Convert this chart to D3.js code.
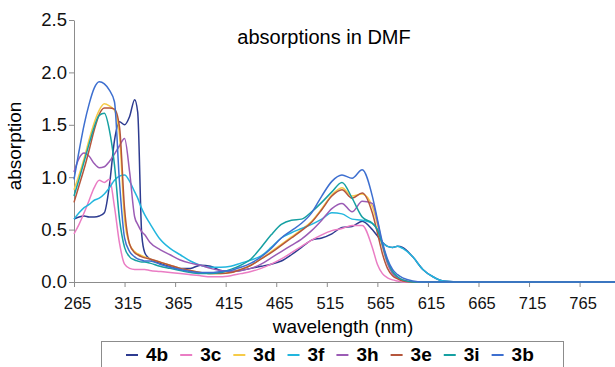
<!DOCTYPE html>
<meta charset="utf-8">
<script src="https://d3js.org/d3.v7.min.js"></script>
<style>
	body { margin: 0; background: #fff; }
	svg { display: block; font-family: "Liberation Sans", Arial, sans-serif; }
	.axis path, .axis line { stroke: #8c8c8c; }
	.axis text { fill: #111; font-family: "Liberation Sans", Arial, sans-serif; }
	.series { fill: none; stroke-width: 1.5px; }
</style>
<body>
	<div id="chart"></div>
</body>
<script>
	// wavelength grid (nm) shared by all series
	const wavelength = [265,270,275,280,285,290,295,300,305,310,315,320,325,328,332,335,340,350,360,370,380,390,400,410,420,430,440,450,460,470,480,490,500,510,520,530,540,550,560,565,570,575,580,585,590,600,610,620,630,650,700,800];

	// absorption values
	const s4b = [0.60,0.62,0.63,0.62,0.62,0.63,0.66,0.92,1.35,1.53,1.50,1.58,1.74,1.62,0.45,0.28,0.22,0.18,0.15,0.13,0.13,0.16,0.15,0.11,0.10,0.11,0.13,0.15,0.17,0.20,0.26,0.33,0.40,0.42,0.46,0.52,0.53,0.58,0.50,0.44,0.38,0.34,0.33,0.34,0.33,0.24,0.12,0.05,0.01,0,0,0];
	const s3c = [0.46,0.55,0.66,0.78,0.90,0.97,0.95,0.98,0.72,0.37,0.17,0.13,0.12,0.12,0.12,0.12,0.11,0.10,0.09,0.08,0.07,0.06,0.05,0.05,0.06,0.08,0.10,0.13,0.17,0.22,0.28,0.34,0.40,0.45,0.49,0.51,0.54,0.54,0.33,0.17,0.08,0.04,0.02,0.01,0,0,0,0,0,0,0,0];
	const s3d = [0.88,1.02,1.18,1.36,1.52,1.64,1.70,1.68,1.64,1.40,0.60,0.36,0.29,0.27,0.25,0.24,0.22,0.19,0.16,0.13,0.11,0.09,0.08,0.08,0.09,0.12,0.16,0.22,0.29,0.36,0.43,0.50,0.58,0.70,0.83,0.90,0.82,0.84,0.72,0.55,0.34,0.18,0.09,0.04,0.02,0,0,0,0,0,0,0];
	const s3f = [0.60,0.66,0.71,0.74,0.78,0.80,0.84,0.90,0.97,1.01,1.02,0.96,0.86,0.80,0.70,0.64,0.56,0.41,0.32,0.26,0.20,0.16,0.14,0.14,0.15,0.18,0.21,0.25,0.33,0.42,0.47,0.51,0.55,0.60,0.66,0.65,0.60,0.59,0.56,0.50,0.38,0.34,0.33,0.34,0.32,0.24,0.12,0.05,0.01,0,0,0];
	const s3h = [1.05,1.18,1.23,1.20,1.13,1.09,1.10,1.15,1.22,1.30,1.37,1.05,0.62,0.55,0.48,0.45,0.38,0.31,0.26,0.21,0.18,0.16,0.13,0.11,0.10,0.11,0.13,0.17,0.23,0.29,0.35,0.41,0.49,0.59,0.70,0.75,0.67,0.77,0.75,0.58,0.35,0.18,0.08,0.04,0.02,0,0,0,0,0,0,0];
	const s3e = [0.76,0.92,1.08,1.26,1.45,1.60,1.66,1.66,1.65,1.48,0.70,0.36,0.28,0.26,0.24,0.23,0.22,0.19,0.16,0.13,0.11,0.09,0.08,0.08,0.09,0.12,0.16,0.22,0.28,0.35,0.42,0.49,0.57,0.69,0.82,0.88,0.80,0.85,0.66,0.47,0.27,0.13,0.06,0.03,0.01,0,0,0,0,0,0,0];
	const s3i = [0.82,0.98,1.15,1.32,1.48,1.59,1.61,1.45,1.12,0.60,0.33,0.24,0.21,0.20,0.19,0.19,0.18,0.15,0.13,0.11,0.09,0.08,0.08,0.09,0.12,0.16,0.22,0.33,0.45,0.55,0.59,0.60,0.67,0.76,0.86,0.95,0.80,0.62,0.56,0.50,0.36,0.20,0.10,0.05,0.02,0,0,0,0,0,0,0];
	const s3b = [0.98,1.25,1.50,1.70,1.85,1.91,1.89,1.83,1.72,0.95,0.42,0.29,0.24,0.22,0.21,0.20,0.20,0.17,0.14,0.12,0.10,0.09,0.09,0.10,0.11,0.14,0.18,0.24,0.32,0.42,0.49,0.56,0.66,0.82,0.96,1.02,0.99,1.07,0.82,0.60,0.38,0.22,0.12,0.07,0.04,0.01,0,0,0,0,0,0];

	const seriesNames = ["4b", "3c", "3d", "3f", "3h", "3e", "3i", "3b"];
	const seriesValues = [s4b, s3c, s3d, s3f, s3h, s3e, s3i, s3b];
	const seriesColors = ["#2d3b90", "#ea7dc4", "#f6cb48", "#22b6de", "#9b5cb5", "#b5563c", "#16a0a2", "#3d6fd0"];

	const xTicks = [265, 315, 365, 415, 465, 515, 565, 615, 665, 715, 765];
	const yTicks = [0, 0.5, 1.0, 1.5, 2.0, 2.5];

	const width = 615, height = 367;

	const svg = d3.select("#chart").append("svg")
		.attr("width", width)
		.attr("height", height);

	const x = d3.scaleLinear().domain([265, 800]).range([74, 615]);
	const y = d3.scaleLinear().domain([0, 2.5]).range([282, 20]);

	// axes
	svg.append("g")
		.attr("class", "axis")
		.attr("transform", "translate(74,0)")
		.call(d3.axisLeft(y).tickValues(yTicks).tickSize(5).tickSizeOuter(0).tickPadding(2).tickFormat(d3.format(".1f")))
		.selectAll("text").style("font-size", "18.5px");

	svg.append("g")
		.attr("class", "axis")
		.attr("transform", "translate(0,282)")
		.call(d3.axisBottom(x).tickValues(xTicks).tickSize(5).tickSizeOuter(0).tickPadding(10))
		.selectAll("text").style("font-size", "16.5px").attr("dx", "3");

	// lines
	const line = d3.line()
		.x(function(d, i) { return x(wavelength[i]); })
		.y(function(d) { return y(d); })
		.curve(d3.curveMonotoneX);

	svg.append("g").selectAll("path")
		.data(seriesValues)
		.enter().append("path")
		.attr("class", "series")
		.attr("stroke", function(d, i) { return seriesColors[i]; })
		.attr("d", line);

	// titles
	svg.append("text")
		.attr("x", 324).attr("y", 44)
		.attr("text-anchor", "middle")
		.style("font-size", "20px")
		.text("absorptions in DMF");

	svg.append("text")
		.attr("x", 343).attr("y", 333)
		.attr("text-anchor", "middle")
		.style("font-size", "19px")
		.text("wavelength (nm)");

	svg.append("text")
		.attr("transform", "translate(21,146) rotate(-90)")
		.attr("text-anchor", "middle")
		.style("font-size", "19px")
		.text("absorption");

	// legend
	const legend = svg.append("g");
	legend.append("rect")
		.attr("x", 101.5).attr("y", 341.5)
		.attr("width", 462).attr("height", 40)
		.attr("fill", "#fff")
		.attr("stroke", "#8c8c8c");

	let lx = 126;
	seriesNames.forEach(function(name, i) {
		legend.append("line")
			.attr("x1", lx).attr("x2", lx + 12)
			.attr("y1", 355).attr("y2", 355)
			.attr("stroke", seriesColors[i])
			.attr("stroke-width", 2);
		const t = legend.append("text")
			.attr("x", lx + 20).attr("y", 361)
			.style("font-size", "19px")
			.style("font-weight", "bold")
			.text(name);
		lx += 20 + t.node().getComputedTextLength() + 12;
	});
</script>
